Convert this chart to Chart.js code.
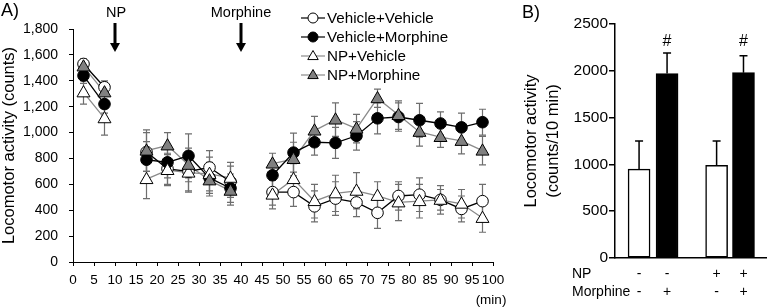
<!DOCTYPE html>
<html>
<head>
<meta charset="utf-8">
<script src="https://cdn.jsdelivr.net/npm/chart.js@4.4.1/dist/chart.umd.min.js"></script>
<style>
html,body{margin:0;padding:0;background:#fff;}
#wrap{position:relative;width:767px;height:307px;overflow:hidden;}
#cA{position:absolute;left:0;top:0;}
#cB{position:absolute;left:520px;top:0;}
</style>
</head>
<body>
<div id="wrap">
<canvas id="cA" width="520" height="307"></canvas>
<canvas id="cB" width="247" height="307"></canvas>
</div>
<script>
// ---------- DATA (panel A) ----------
const times = [2.5,7.5,17.5,22.5,27.5,32.5,37.5,47.5,52.5,57.5,62.5,67.5,72.5,77.5,82.5,87.5,92.5,97.5];
const seriesNames = ['Vehicle+Vehicle','Vehicle+Morphine','NP+Vehicle','NP+Morphine'];
const vehVeh   = [1530,1350,850,720,700,730,620,540,540,430,490,460,380,510,520,480,410,470];
const vehMor   = [1440,1220,790,770,820,650,570,670,845,925,920,975,1110,1120,1095,1070,1040,1080];
const npVeh    = [1310,1110,640,710,690,680,650,520,640,470,530,550,510,460,470,480,450,340];
const npMor    = [1510,1310,860,900,750,630,550,760,795,1015,1100,1030,1265,1135,1005,965,935,860];
const vehVehErr= [40,50,150,120,150,130,120,100,110,120,130,110,120,110,130,80,100,130];
const vehMorErr= [60,70,140,120,170,120,110,100,150,100,120,110,120,110,130,90,110,100];
const npVehErr = [90,130,150,120,150,130,120,110,120,130,140,140,110,140,130,110,110,110];
const npMorErr = [40,60,160,100,130,120,110,80,130,110,130,110,70,110,110,80,100,110];
const yTicksA = [0,200,400,600,800,1000,1200,1400,1600,1800];
const injections = [{t:10,label:'NP'},{t:40,label:'Morphine'}];

// ---------- DATA (panel B) ----------
const groupsB = ['Veh+Veh','Veh+Mor','NP+Veh','NP+Mor'];
const valuesB = [950,1970,990,1980];
const errorsB = [300,220,260,180];
const npSigns = ['-','-','+','+'];
const morSigns = ['-','+','-','+'];
const sigMarks = ['','#','','#'];
const yTicksB = [0,500,1000,1500,2000,2500];

// ---------- helpers ----------
const FONT = '"Liberation Sans", Arial, sans-serif';
function buildPoints(vals){
  const pts=[];
  for(let i=0;i<times.length;i++){
    if(i>0 && times[i]-times[i-1]>5) pts.push({x:(times[i]+times[i-1])/2,y:null});
    pts.push({x:times[i],y:vals[i]});
  }
  return pts;
}
function buildErr(errs){
  const out=[];
  for(let i=0;i<times.length;i++){
    if(i>0 && times[i]-times[i-1]>5) out.push(null);
    out.push(errs[i]);
  }
  return out;
}
const styles = [
  {line:'#000', fill:'#fff', stroke:'#000', shape:'circle', r:5.8},
  {line:'#000', fill:'#000', stroke:'#000', shape:'circle', r:5.8},
  {line:'#8a8a8a', fill:'#fff', stroke:'#000', shape:'triangle', r:6.8},
  {line:'#8a8a8a', fill:'#808080', stroke:'#000', shape:'triangle', r:6.8}
];
const valsA=[vehVeh,vehMor,npVeh,npMor];
const errsA=[vehVehErr,vehMorErr,npVehErr,npMorErr];

function drawMarker(ctx, st, x, y){
  ctx.save();
  ctx.fillStyle=st.fill; ctx.strokeStyle=st.stroke; ctx.lineWidth=1;
  ctx.beginPath();
  if(st.shape==='circle'){
    ctx.arc(x,y,st.r,0,Math.PI*2);
  } else {
    const r=st.r;
    ctx.moveTo(x,y-r);
    ctx.lineTo(x+r*0.95,y+r*0.65);
    ctx.lineTo(x-r*0.95,y+r*0.65);
    ctx.closePath();
  }
  ctx.fill(); ctx.stroke();
  ctx.restore();
}

const errorBarsA = {
  id:'errorBarsA',
  beforeDatasetsDraw(chart){
    const ctx=chart.ctx, xs=chart.scales.x, ys=chart.scales.y;
    ctx.save();
    ctx.strokeStyle='#6e6e6e'; ctx.lineWidth=1.2;
    chart.data.datasets.forEach(ds=>{
      ds.data.forEach((p,i)=>{
        const e=ds.errs[i];
        if(p.y==null||e==null) return;
        const x=xs.getPixelForValue(p.x);
        const y1=ys.getPixelForValue(p.y+e), y2=ys.getPixelForValue(p.y-e);
        ctx.beginPath();
        ctx.moveTo(x,y1); ctx.lineTo(x,y2);
        ctx.moveTo(x-3.5,y1); ctx.lineTo(x+3.5,y1);
        ctx.moveTo(x-3.5,y2); ctx.lineTo(x+3.5,y2);
        ctx.stroke();
      });
    });
    ctx.restore();
  }
};

const decorA = {
  id:'decorA',
  afterDraw(chart){
    const ctx=chart.ctx, xs=chart.scales.x;
    ctx.save();
    ctx.fillStyle='#000';
    ctx.font='18px '+FONT; ctx.textBaseline='middle'; ctx.textAlign='left';
    ctx.fillText('A)',1,11);
    // injection arrows
    ctx.font='14.5px '+FONT; ctx.textAlign='center';
    injections.forEach(inj=>{
      const x=xs.getPixelForValue(inj.t);
      ctx.fillText(inj.label,x+(inj.label==='NP'?1:0),13);
      ctx.fillRect(x-1.5,23,3,22);
      ctx.beginPath();
      ctx.moveTo(x-5,43); ctx.lineTo(x+5,43); ctx.lineTo(x,52); ctx.closePath(); ctx.fill();
    });
    // (min)
    ctx.font='13.5px '+FONT; ctx.textAlign='center';
    ctx.fillText('(min)',xs.getPixelForValue(100)-2,300);
    // legend
    const lx=301, rows=[18,37,56,75];
    ctx.font='15.2px '+FONT; ctx.textAlign='left';
    seriesNames.forEach((n,i)=>{
      const st=styles[i], y=rows[i];
      ctx.strokeStyle=st.line; ctx.lineWidth=1.2;
      ctx.beginPath(); ctx.moveTo(lx,y); ctx.lineTo(lx+24,y); ctx.stroke();
      drawMarker(ctx,{...st,r:st.shape==='circle'?5:5.5},lx+12,y);
      ctx.fillStyle='#000';
      ctx.fillText(n,lx+26,y+1);
    });
    ctx.restore();
  }
};

const markerPlugin = {
  id:'markerPlugin',
  afterDatasetsDraw(chart){
    const ctx=chart.ctx, xs=chart.scales.x, ys=chart.scales.y;
    chart.data.datasets.forEach((ds,di)=>{
      ds.data.forEach(p=>{
        if(p.y==null) return;
        drawMarker(ctx,styles[di],xs.getPixelForValue(p.x),ys.getPixelForValue(p.y));
      });
    });
  }
};

new Chart(document.getElementById('cA'),{
  type:'line',
  data:{
    datasets: seriesNames.map((n,i)=>({
      label:n,
      data:buildPoints(valsA[i]),
      errs:buildErr(errsA[i]),
      borderColor:styles[i].line,
      borderWidth:1.3,
      pointRadius:0,
      spanGaps:false,
      tension:0
    }))
  },
  options:{
    responsive:false, animation:false, devicePixelRatio:1,
    layout:{padding:{top:29,right:27,left:0,bottom:0}},
    plugins:{legend:{display:false},tooltip:{enabled:false}},
    scales:{
      x:{type:'linear',min:0,max:100,
        afterFit(s){s.height=45;},
        ticks:{stepSize:5,color:'#000',font:{family:FONT,size:13.5},padding:6,maxRotation:0,autoSkip:false},
        grid:{drawOnChartArea:false,drawTicks:true,tickLength:4,color:'#000'},
        border:{display:true,color:'#000',width:1}},
      y:{min:0,max:1800,
        afterFit(s){s.width=73;},
        afterBuildTicks(s){s.ticks=yTicksA.map(v=>({value:v}));},
        ticks:{color:'#000',font:{family:FONT,size:14},padding:11,
          callback:v=>v.toLocaleString('en-US')},
        grid:{drawOnChartArea:false,drawTicks:true,tickLength:4,color:'#000'},
        border:{display:true,color:'#000',width:1},
        title:{display:true,text:'Locomotor activity (counts)',color:'#000',font:{family:FONT,size:16.5},padding:{top:0,bottom:0}}}
    }
  },
  plugins:[errorBarsA,markerPlugin,decorA]
});

// ---------- panel B ----------
const barSlots=[1,2,3.77,4.73]; // horizontal layout of the four groups
const decorB = {
  id:'decorB',
  afterDatasetsDraw(chart){
    const ctx=chart.ctx, xs=chart.scales.x, ys=chart.scales.y;
    ctx.save();
    ctx.strokeStyle='#000'; ctx.lineWidth=1.5;
    valuesB.forEach((v,i)=>{
      const x=xs.getPixelForValue(barSlots[i]);
      const y0=ys.getPixelForValue(v), y1=ys.getPixelForValue(v+errorsB[i]);
      ctx.beginPath(); ctx.moveTo(x,y0); ctx.lineTo(x,y1);
      ctx.moveTo(x-4,y1); ctx.lineTo(x+4,y1); ctx.stroke();
    });
    ctx.fillStyle='#000';
    ctx.font='18px '+FONT; ctx.textAlign='left'; ctx.textBaseline='middle';
    ctx.fillText('B)',2,13);
    ctx.font='16px '+FONT; ctx.textAlign='center';
    sigMarks.forEach((m,i)=>{ if(m) ctx.fillText(m,xs.getPixelForValue(barSlots[i]),42); });
    ctx.font='14px '+FONT; ctx.textAlign='left';
    ctx.fillText('NP',52,274);
    ctx.fillText('Morphine',52,292);
    ctx.textAlign='center';
    npSigns.forEach((s,i)=>ctx.fillText(s,xs.getPixelForValue(barSlots[i]),274));
    morSigns.forEach((s,i)=>ctx.fillText(s,xs.getPixelForValue(barSlots[i]),292));
    ctx.restore();
  }
};
new Chart(document.getElementById('cB'),{
  type:'bar',
  data:{
    datasets:[{
      data:valuesB.map((v,i)=>({x:barSlots[i],y:v})),
      backgroundColor:['#fff','#000','#fff','#000'],
      borderColor:'#000',borderWidth:1.5,barThickness:22,borderSkipped:false
    }]
  },
  options:{
    responsive:false, animation:false, devicePixelRatio:1,
    layout:{padding:{top:24,right:0,left:0,bottom:0}},
    plugins:{legend:{display:false},tooltip:{enabled:false}},
    scales:{
      x:{type:'linear',min:0.14,max:5.57,offset:false,
        afterFit(s){s.height=49;},
        ticks:{display:false},
        grid:{display:false},
        border:{display:true,color:'#000',width:1.5}},
      y:{min:0,max:2500,
        afterFit(s){s.width=95;},
        afterBuildTicks(s){s.ticks=yTicksB.map(v=>({value:v}));},
        ticks:{color:'#000',font:{family:FONT,size:15.5},padding:1,callback:v=>String(v)},
        grid:{drawOnChartArea:false,drawTicks:true,tickLength:6,color:'#000',lineWidth:1.5},
        border:{display:true,color:'#000',width:1.5},
        title:{display:true,text:['Locomotor activity','(counts/10 min)'],color:'#000',font:{family:FONT,size:16.5,lineHeight:1.35},padding:{top:0,bottom:2}}}
    }
  },
  plugins:[decorB]
});
</script>
</body>
</html>
